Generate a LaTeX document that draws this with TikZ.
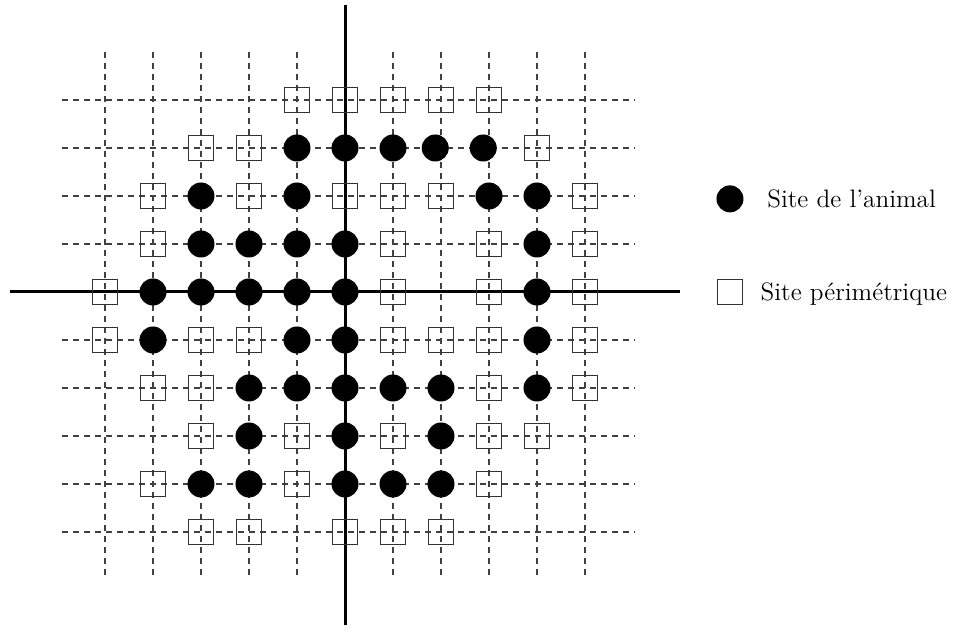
\documentclass[tikz,border=0pt]{standalone}
\usepackage{fontspec}
\begin{document}
\begin{tikzpicture}[x=24pt,y=24pt,
  gridline/.style={dash pattern=on 3pt off 2.5pt, line width=0.6pt, black!75},
  axisline/.style={line width=1.5pt, black},
  site/.style={circle, fill=black, minimum size=13.5pt, inner sep=0pt},
  perim/.style={rectangle, draw=black!80, line width=0.55pt, minimum size=12.2pt, inner sep=0pt},
  legtext/.style={anchor=base west, inner sep=0pt, font=\fontsize{12.6pt}{15pt}\selectfont}]
\useasboundingbox (-7.1875,-7.0417) rectangle (12.7708,6.0833);
% dashed lattice
\foreach \i in {-5,...,5}{
  \coordinate (vt\i) at (\i,5.0);
  \coordinate (vb\i) at (\i,-5.96);
  \draw[gridline] (vt\i) -- (vb\i);
}
\foreach \j in {-5,...,4}{
  \coordinate (hl\j) at (-5.9,\j);
  \coordinate (hr\j) at (6.04,\j);
  \draw[gridline] (hl\j) -- (hr\j);
}
% axes
\coordinate (xl) at (-6.98,0);
\coordinate (xr) at (6.98,0);
\coordinate (yt) at (0,5.98);
\coordinate (yb) at (0,-6.94);
\draw[axisline] (xl) -- (xr);
\draw[axisline] (yt) -- (yb);
% perimeter sites
\foreach \i/\j [count=\k] in {
  -1/4, 0/4, 1/4, 2/4, 3/4,
  -3/3, -2/3, 4/3,
  -4/2, -2/2, 0/2, 1/2, 2/2, 5/2,
  -4/1, 1/1, 3/1, 5/1,
  -5/0, 1/0, 3/0, 5/0,
  -5/-1, -3/-1, -2/-1, 1/-1, 2/-1, 3/-1, 5/-1,
  -4/-2, -3/-2, 3/-2, 5/-2,
  -3/-3, -1/-3, 1/-3, 3/-3, 4/-3,
  -4/-4, -1/-4, 3/-4,
  -3/-5, -2/-5, 0/-5, 1/-5, 2/-5}
  \node[perim] (sq\k) at (\i,\j) {};
% animal sites
\foreach \i/\j [count=\k] in {
  -1/3, 0/3, 1/3, 1.88/3, 2.88/3,
  -3/2, -1/2, 3/2, 4/2,
  -3/1, -2/1, -1/1, 0/1, 4/1,
  -4/0, -3/0, -2/0, -1/0, 0/0, 4/0,
  -4/-1, -1/-1, 0/-1, 4/-1,
  -2/-2, -1/-2, 0/-2, 1/-2, 2/-2, 4/-2,
  -2/-3, 0/-3, 2/-3,
  -3/-4, -2/-4, 0/-4, 1/-4, 2/-4}
  \node[site] (dot\k) at (\i,\j) {};
% legend
\node[site] (legdot) at (8.02,1.94) {};
\node[legtext] (legdottext) at (8.79,1.76) {Site de l'animal};
\node[perim] (legsq) at (8.02,0) {};
\node[legtext] (legsqtext) at (8.65,-0.18) {Site périmétrique};
\end{tikzpicture}
\end{document}
